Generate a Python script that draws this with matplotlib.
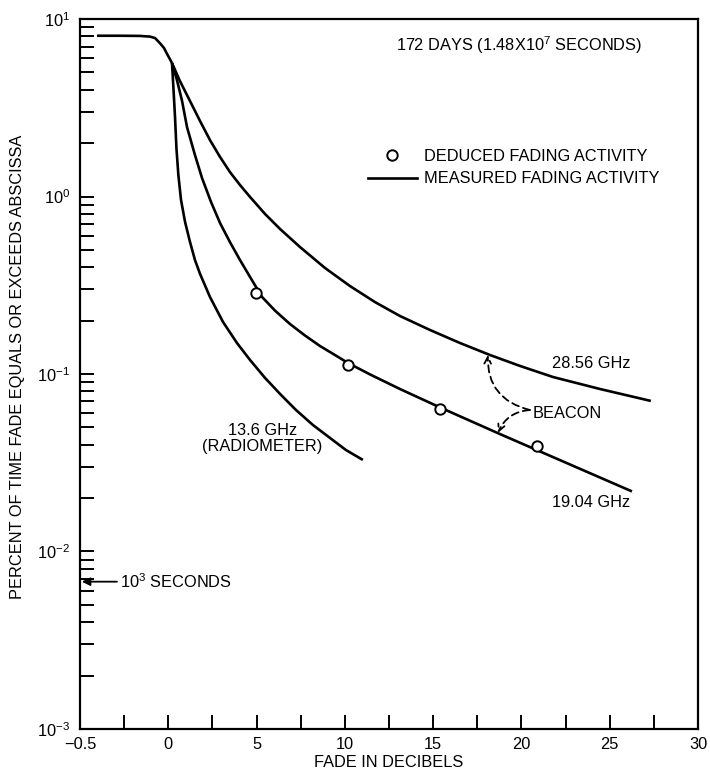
import matplotlib
matplotlib.use('Agg')
import matplotlib.pyplot as plt
from matplotlib.lines import Line2D
from matplotlib.ticker import FixedLocator, FixedFormatter, LogLocator

plt.rcParams['font.family'] = ['Liberation Sans', 'DejaVu Sans']
plt.rcParams['mathtext.fontset'] = 'custom'
plt.rcParams['mathtext.rm'] = 'Liberation Sans'
plt.rcParams['mathtext.it'] = 'Liberation Sans:italic'
plt.rcParams['mathtext.bf'] = 'Liberation Sans:bold'

FS = 11.8

# common part of all curves (before they split near 0 dB)
trunk_db = [-4.04, -2.73, -1.60, -1.04, -0.75, -0.47, -0.24, -0.09, 0.04, 0.21]
trunk_pct = [8.05, 8.05, 8.03, 7.96, 7.81, 7.30, 6.86, 6.41, 6.07, 5.65]

# 13.6 GHz radiometer
radio_db = [0.21, 0.29, 0.38, 0.46, 0.57, 0.72, 0.95, 1.23, 1.51, 1.80, 2.36,
            3.10, 3.89, 4.63, 5.48, 6.33, 7.23, 8.19, 9.16, 10.06, 11.02]
radio_pct = [5.65, 4.09, 2.81, 1.876, 1.322, 0.956, 0.718, 0.554, 0.4387, 0.366, 0.2716,
             0.1963, 0.1495, 0.1199, 0.0950, 0.0772, 0.0627, 0.0516, 0.0436, 0.0373, 0.0328]

# 19.04 GHz beacon
b19_db = [0.21, 0.49, 0.78, 1.06, 1.51, 1.91, 2.42, 2.93, 3.49, 4.06, 4.63, 5.31,
          6.04, 6.89, 7.74, 8.59, 9.44, 10.18, 11.42, 13.12, 15.39, 18.78, 26.26]
b19_pct = [5.65, 4.53, 3.45, 2.46, 1.713, 1.271, 0.931, 0.709, 0.554, 0.4387, 0.352, 0.2716,
           0.2277, 0.1913, 0.1648, 0.1438, 0.1279, 0.1153, 0.0995, 0.0823, 0.0648, 0.0459, 0.0218]

# 28.56 GHz beacon
b28_db = [0.21, 0.66, 1.23, 1.80, 2.36, 2.93, 3.49, 4.06, 4.63, 5.48, 6.33, 7.46,
          8.87, 10.29, 11.70, 13.12, 14.82, 16.52, 18.22, 19.92, 21.78, 24.45, 27.33]
b28_pct = [5.65, 4.47, 3.45, 2.66, 2.08, 1.67, 1.374, 1.161, 0.994, 0.797, 0.656, 0.519,
           0.396, 0.313, 0.2544, 0.2122, 0.1770, 0.1495, 0.1279, 0.1110, 0.0962, 0.0823, 0.0705]

# deduced fading activity (circles)
deduced_db = [4.95, 10.18, 15.39, 20.88]
deduced_pct = [0.286, 0.112, 0.0635, 0.0393]

x_ticks = [-5, 0, 5, 10, 15, 20, 25, 30]
x_labels = ['\u22120.5', '0', '5', '10', '15', '20', '25', '30']
x_minor = [-2.5, 2.5, 7.5, 12.5, 17.5, 22.5, 27.5]

ref_pct = 0.00676  # 10^3 s out of 1.48x10^7 s

fig = plt.figure(figsize=(7.1, 7.76), dpi=100)
ax = fig.add_axes([0.1127, 0.0606, 0.8704, 0.9149])

lw = 1.9
for xs, ys in [(trunk_db, trunk_pct), (radio_db, radio_pct),
               (b19_db, b19_pct), (b28_db, b28_pct)]:
    ax.plot(xs, ys, color='black', lw=lw, solid_joinstyle='round',
            solid_capstyle='butt')
ax.plot(deduced_db, deduced_pct, ls='none', marker='o', ms=7.5, mfc='white',
        mec='black', mew=1.4, zorder=5)

ax.set_yscale('log')
ax.set_xlim(-5, 30)
ax.set_ylim(1e-3, 1e1)

ax.xaxis.set_major_locator(FixedLocator(x_ticks))
ax.xaxis.set_major_formatter(FixedFormatter(x_labels))
ax.xaxis.set_minor_locator(FixedLocator(x_minor))
ax.yaxis.set_major_locator(LogLocator(base=10, numticks=10))
ax.yaxis.set_minor_locator(LogLocator(base=10, subs=range(2, 10), numticks=20))

ax.tick_params(which='both', direction='in', length=10, width=1.4,
               top=False, right=False, labelsize=FS)
ax.tick_params(axis='y', pad=7)
ax.tick_params(axis='x', pad=6)
for s in ax.spines.values():
    s.set_linewidth(1.6)

ax.set_xlabel('FADE IN DECIBELS', fontsize=FS)
ax.xaxis.set_label_coords(0.5, -0.037)
ax.set_ylabel('PERCENT OF TIME FADE EQUALS OR EXCEEDS ABSCISSA', fontsize=FS)
ax.yaxis.set_label_coords(-0.089, 0.51)

ax.text(19.86, 7.13, '172 DAYS (1.48X10$^7$ SECONDS)', fontsize=FS,
        ha='center', va='center')

handles = [Line2D([], [], ls='none', marker='o', ms=7.5, mfc='white', mec='black', mew=1.4),
           Line2D([], [], color='black', lw=lw)]
ax.legend(handles, ['DEDUCED FADING ACTIVITY', 'MEASURED FADING ACTIVITY'],
          loc='upper left', bbox_to_anchor=(0.455, 0.826), frameon=False,
          fontsize=FS, handlelength=3.0, handletextpad=0.45, labelspacing=0.45,
          borderaxespad=0)

ax.text(21.73, 0.1153, '28.56 GHz', fontsize=FS, ha='left', va='center')
ax.text(21.73, 0.019, '19.04 GHz', fontsize=FS, ha='left', va='center')
ax.text(5.33, 0.0435, '13.6 GHz\n(RADIOMETER)', fontsize=FS, ha='center',
        va='center', multialignment='center', linespacing=1.1)
ax.text(20.65, 0.0602, 'BEACON', fontsize=FS, ha='left', va='center')

beacon_from = (20.48, 0.0627)
ax.annotate('', xy=(18.1, 0.128), xytext=beacon_from,
            arrowprops=dict(arrowstyle='->', lw=1.3, ls=(0, (4, 2.5)),
                            connectionstyle='arc3,rad=-0.4', shrinkA=0, shrinkB=0,
                            mutation_scale=12))
ax.annotate('', xy=(18.67, 0.0466), xytext=beacon_from,
            arrowprops=dict(arrowstyle='->', lw=1.3, ls=(0, (4, 2.5)),
                            connectionstyle='arc3,rad=0.3', shrinkA=0, shrinkB=0,
                            mutation_scale=12))

ax.annotate('10$^3$ SECONDS', xy=(-4.9, ref_pct), xytext=(-2.75, ref_pct),
            fontsize=FS, ha='left', va='center',
            arrowprops=dict(arrowstyle='-|>', lw=1.3, color='black',
                            shrinkA=0, shrinkB=0, mutation_scale=12))

fig.savefig('out.png', dpi=100)
